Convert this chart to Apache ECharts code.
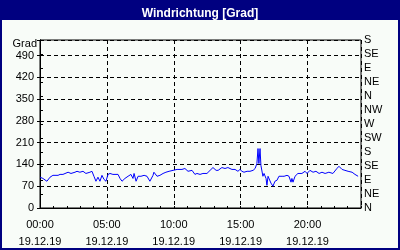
<!DOCTYPE html>
<html>
<head>
<meta charset="utf-8">
<script src="https://cdn.jsdelivr.net/npm/echarts@6/dist/echarts.min.js"></script>
<style>html,body{margin:0;padding:0;background:#000080}#c{width:400px;height:250px}</style>
</head>
<body>
<div id="c"></div>
<script>
var titleText = 'Windrichtung [Grad]';
var dateLabel = '19.12.19';
var yUnit = 'Grad';
var dirLabels = ['N','NE','E','SE','S','SW','W','NW','N','NE','E','SE','S'];
var times = [
 '00:00','00:13','00:31','00:45','00:58','01:21','01:30','01:43','02:06','02:19',
 '02:37','02:46','02:59','03:13','03:26','03:44','03:53','04:02','04:11','04:20',
 '04:29','04:38','04:47','04:56','05:05','05:14','05:27','05:50','05:59','06:08',
 '06:21','06:35','06:48','06:57','07:02','07:11','07:20','07:33','07:47','08:00',
 '08:13','08:27','08:31','08:45','08:58','09:12','09:25','09:39','09:57','10:15',
 '10:37','10:50','11:04','11:22','11:35','11:44','11:58','12:11','12:29','12:43',
 '12:56','13:10','13:19','13:36','13:50','14:03','14:21','14:35','14:48','14:57',
 '15:06','15:15','15:29','15:42','15:56','16:05','16:13','16:18','16:22','16:27',
 '16:31','16:40','16:45','16:54','16:58','17:03','17:16','17:25','17:34','17:43',
 '17:52','18:06','18:15','18:28','18:37','18:46','18:50','18:55','19:04','19:17',
 '19:35','19:49','19:58','20:11','20:25','20:38','20:52','21:05','21:19','21:36',
 '21:54','22:12','22:21','22:35','22:48','23:02','23:20','23:33','23:47'
];
var direction = [
 99,95,86,99,105,105,108,108,115,111,
 115,118,115,118,111,115,118,102,86,99,
 86,105,92,86,108,111,108,108,95,86,
 95,102,108,95,111,86,102,102,105,102,
 86,105,115,102,105,111,115,118,121,124,
 124,127,118,121,108,111,108,111,111,121,
 130,121,121,130,127,130,124,124,118,124,
 118,115,118,118,121,127,143,191,143,191,
 137,102,111,95,73,102,80,70,86,89,
 102,102,102,105,102,83,95,83,102,111,
 111,118,111,121,115,118,111,115,111,115,
 111,127,134,124,121,118,115,108,102
];

function toMin(t){var p=t.split(':');return (+p[0])*60+(+p[1]);}
var seriesData = times.map(function(t,i){return [toMin(t), direction[i]];});
var FONT = 'Liberation Sans';
var chart = echarts.init(document.getElementById('c'), null, {renderer:'canvas'});
chart.setOption({
  animation:false,
  backgroundColor:'#000080',
  graphic:[
    {type:'rect', left:2, top:20, shape:{width:396,height:228}, style:{fill:'#f8fcf8'}, z:-10},
    {type:'text', right:363, top:38, style:{text:yUnit, fill:'#000', font:'11px "Liberation Sans"', textAlign:'right'}}
  ],
  title:{text:titleText,left:'center',top:3,textStyle:{color:'#fff',fontSize:12,fontWeight:'bold',fontFamily:FONT}},
  grid:{left:40,right:39,top:40,bottom:40,show:true,borderColor:'#000',borderWidth:1,backgroundColor:'transparent'},
  xAxis:[{
    type:'value',min:0,max:1440,interval:300,
    axisLine:{show:true,lineStyle:{color:'#000',width:1}},
    axisTick:{show:false},
    splitLine:{show:true,lineStyle:{color:'#000',type:[4,3],width:1}},
    axisLabel:{color:'#000',fontSize:11,fontFamily:FONT,margin:8,lineHeight:17,showMaxLabel:false,
      formatter:function(v){if(v>=1440)return '';var h=Math.floor(v/60);return (h<10?'0':'')+h+':00\n'+dateLabel;}}
  },{
    type:'value',min:0,max:1440,interval:60,position:'bottom',
    axisLine:{show:false},axisLabel:{show:false},splitLine:{show:false},
    axisTick:{show:true,inside:true,length:2,lineStyle:{color:'#000'}}
  }],
  yAxis:[{
    type:'value',min:0,max:540,interval:70,position:'left',
    axisLine:{show:true,lineStyle:{color:'#000'}},
    axisTick:{show:true,length:3,lineStyle:{color:'#000'}},
    splitLine:{show:true,lineStyle:{color:'#000',type:[4,3],width:1}},
    axisLabel:{color:'#000',fontSize:11,fontFamily:FONT,margin:6,
      formatter:function(v){return v>=540?'':String(v);}}
  },{
    type:'value',min:0,max:540,interval:45,position:'right',
    axisLine:{show:true,lineStyle:{color:'#000'}},
    axisTick:{show:true,length:3,lineStyle:{color:'#000'}},
    splitLine:{show:false},
    axisLabel:{color:'#000',fontSize:11,fontFamily:FONT,margin:3,
      formatter:function(v){return dirLabels[Math.round(v/45)]||'';}}
  }],
  series:[{
    type:'line',data:seriesData,xAxisIndex:0,yAxisIndex:0,showSymbol:false,
    lineStyle:{color:'#0000ff',width:1},itemStyle:{color:'#0000ff'}
  }]
});
</script>
</body>
</html>
